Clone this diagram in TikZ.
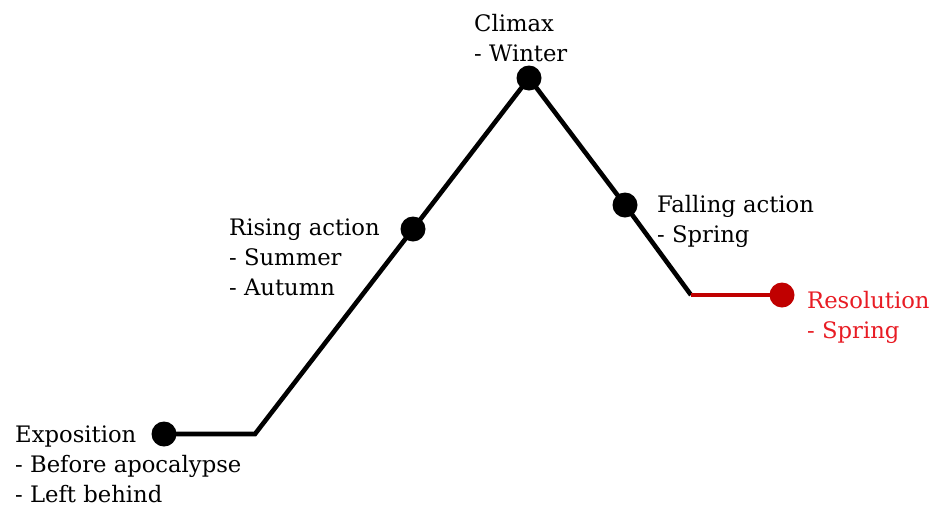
\documentclass[tikz,border=0pt]{standalone}
\usepackage{fontspec}
\setmainfont{DejaVu Serif}
\definecolor{lineRed}{RGB}{192,0,0}
\definecolor{textRed}{RGB}{232,28,36}
\begin{document}
\begin{tikzpicture}[x=1pt,y=-1pt,
  dot/.style={circle,fill=#1,inner sep=0pt,minimum size=25pt},
  dot/.default=black,
  seg/.style={line width=4.6pt,line join=miter},
  lbl/.style={anchor=base west,align=left,inner sep=0pt,font=\fontsize{22.7}{30}\selectfont}]
\useasboundingbox (0,0) rectangle (938,507);
\node[dot] (expo) at (164,434) {};
\coordinate (k1) at (255,434);
\node[dot] (rise) at (413,229) {};
\node[dot] (clim) at (529,78) {};
\node[dot] (fall) at (625,205) {};
\coordinate (k2) at (691,295);
\node[dot=lineRed] (reso) at (782,295) {};
\draw[seg] (expo.center) -- (k1) -- (rise.center) -- (clim.center) -- (fall.center) -- (k2);
\draw[seg,lineRed] (k2) -- (reso.center);
% anchors give the baseline of the last line
\node[lbl] (tclim) at (474,61) {Climax\\- Winter};
\node[lbl] (trise) at (229,295) {Rising action\\- Summer\\- Autumn};
\node[lbl] (tfall) at (657,242) {Falling action\\- Spring};
\node[lbl,text=textRed] (treso) at (807,338) {Resolution\\- Spring};
\node[lbl] (texpo) at (15,502) {Exposition\\- Before apocalypse\\- Left behind};
\end{tikzpicture}
\end{document}
